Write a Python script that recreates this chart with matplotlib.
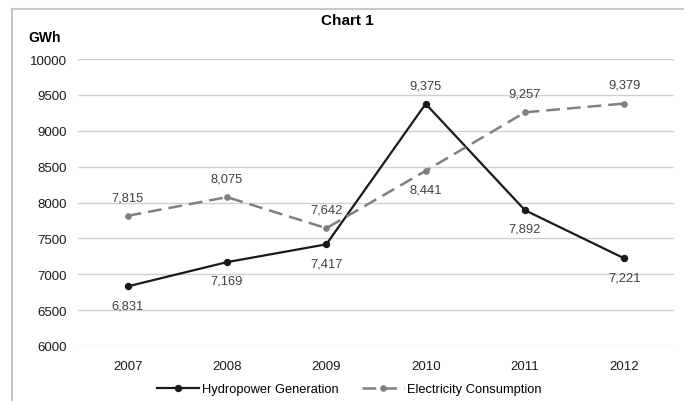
import matplotlib
matplotlib.use("Agg")
import matplotlib.pyplot as plt
from matplotlib.patches import Rectangle

years = ["2007", "2008", "2009", "2010", "2011", "2012"]
hydro = [6831, 7169, 7417, 9375, 7892, 7221]
consumption = [7815, 8075, 7642, 8441, 9257, 9379]
hydro_label_pos = ["below", "below", "below", "above", "below", "below"]
cons_label_pos = ["above", "above", "above", "below", "above", "above"]

plt.rcParams["font.family"] = ["Liberation Sans", "DejaVu Sans"]

fig = plt.figure(figsize=(6.84, 4.02), dpi=100)
ax = fig.add_axes([78 / 684, 1 - 347 / 402, 596 / 684, 287 / 402])

x = list(range(len(years)))
ax.plot(x, hydro, color="#1a1a1a", lw=1.6, marker="o", ms=4.3,
        label="Hydropower Generation", zorder=3)
ax.plot(x, consumption, color="#808080", lw=1.8, ls=(0, (5.5, 2.8)), marker="o", ms=3.8,
        label="Electricity Consumption", zorder=3)

def annotate(vals, pos):
    for i, (v, p) in enumerate(zip(vals, pos)):
        dy = 13.5 if p == "above" else -13.5
        ax.annotate(f"{v:,}", (i, v), xytext=(0, dy), textcoords="offset points",
                    ha="center", va="center", fontsize=9.3, color="#404040")

annotate(hydro, hydro_label_pos)
annotate(consumption, cons_label_pos)

ax.set_xlim(-0.5, len(years) - 0.5)
ax.set_ylim(6000, 10000)
ax.set_yticks(range(6000, 10001, 500))
ax.set_xticks(x)
ax.set_xticklabels(years)
ax.tick_params(axis="both", length=0, labelsize=9.5, colors="#1a1a1a")
ax.tick_params(axis="y", pad=8)
ax.tick_params(axis="x", pad=10)
ax.grid(axis="y", color="#d0d0d0", lw=1)
ax.set_axisbelow(True)
for s in ax.spines.values():
    s.set_visible(False)

fig.text(347 / 684, 1 - 21 / 402, "Chart 1", ha="center", va="center",
         fontsize=11, fontweight="bold")
fig.text(28 / 684, 1 - 38 / 402, "GWh", ha="left", va="center",
         fontsize=10, fontweight="bold")

fig.legend(loc="center", bbox_to_anchor=(349 / 684, 1 - 390 / 402), ncol=2,
           frameon=False, fontsize=9.3, handlelength=3.3, columnspacing=1.8,
           handletextpad=0.2)

fig.patches.append(Rectangle((12 / 684, -0.05), 1.0, 1 - 10 / 402 + 0.05,
                             transform=fig.transFigure, fill=False,
                             edgecolor="#c8c8c8", lw=1.5))

fig.savefig("out.png", dpi=100)
